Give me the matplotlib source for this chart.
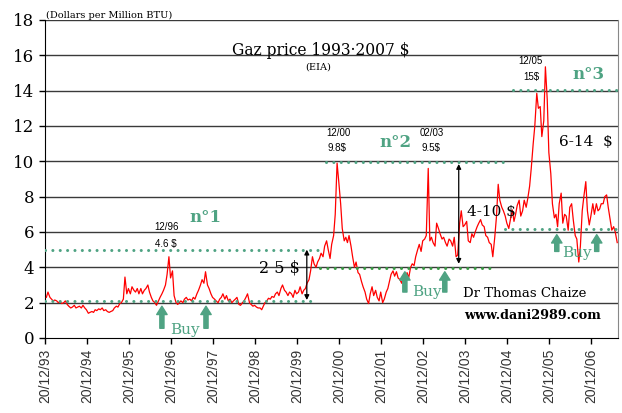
import matplotlib
matplotlib.use("Agg")
import matplotlib.pyplot as plt
import pandas as pd

# Henry Hub spot at the 1st and 15th of each month ($/MMBtu)
price_1994 = [2.3, 2.6, 2.3, 2.2, 2.1, 2.15, 2.1, 2.0, 2.05, 1.95, 2.0, 2.1,
              1.9, 1.8, 1.7, 1.75, 1.85, 1.7, 1.75, 1.8, 1.7, 1.85, 1.7, 1.6]
price_1995 = [1.4, 1.45, 1.5, 1.45, 1.6, 1.55, 1.65, 1.6, 1.7, 1.55, 1.6, 1.5,
              1.45, 1.5, 1.55, 1.7, 1.8, 1.75, 1.95, 2.0, 2.2, 3.45, 2.5, 2.8]
price_1996 = [2.5, 2.9, 2.7, 2.6, 2.8, 2.5, 2.8, 2.5, 2.7, 2.8, 3.0, 2.6,
              2.3, 2.1, 2.0, 1.85, 2.1, 2.3, 2.5, 2.7, 3.0, 3.6, 4.6, 3.4]
price_1997 = [3.8, 2.4, 2.0, 1.9, 2.0, 2.1, 2.0, 2.2, 2.3, 2.15, 2.2, 2.1,
              2.3, 2.2, 2.5, 2.7, 3.0, 3.3, 3.1, 3.75, 3.0, 2.8, 2.5, 2.3]
price_1998 = [2.2, 2.1, 2.0, 2.2, 2.3, 2.5, 2.2, 2.4, 2.1, 2.2, 2.0, 2.1,
              2.2, 2.3, 1.9, 1.85, 2.0, 2.1, 2.3, 2.5, 2.0, 1.9, 1.8, 1.85]
price_1999 = [1.75, 1.7, 1.7, 1.6, 1.8, 2.0, 2.1, 2.25, 2.2, 2.35, 2.3, 2.5,
              2.6, 2.4, 2.8, 3.0, 2.7, 2.6, 2.4, 2.6, 2.5, 2.3, 2.7, 2.5]
price_2000 = [2.6, 2.9, 2.5, 2.7, 2.8, 3.1, 3.3, 3.8, 4.6, 4.2, 4.0, 4.3,
              4.5, 4.8, 4.6, 5.2, 5.5, 5.0, 4.5, 5.3, 5.8, 7.0, 9.9, 8.9]
price_2001 = [7.6, 6.2, 5.5, 5.7, 5.4, 5.8, 5.2, 4.6, 4.0, 4.3, 3.7, 3.6,
              3.2, 2.9, 2.6, 2.2, 1.95, 2.5, 2.9, 2.4, 2.7, 2.3, 2.1, 2.6]
price_2002 = [2.0, 2.2, 2.6, 2.8, 3.2, 3.6, 3.8, 3.5, 3.75, 3.4, 3.3, 3.1,
              3.5, 3.2, 3.7, 3.4, 4.0, 4.2, 4.1, 4.6, 5.0, 5.3, 4.9, 5.5]
price_2003 = [5.6, 5.8, 9.6, 5.5, 5.7, 5.4, 5.2, 6.5, 6.2, 5.9, 5.6, 5.7,
              5.4, 5.2, 5.6, 5.5, 5.2, 5.7, 4.6, 4.7, 6.5, 7.2, 6.3, 6.4]
price_2004 = [6.6, 5.5, 5.4, 5.9, 5.7, 6.0, 6.3, 6.5, 6.7, 6.4, 6.3, 5.8,
              5.7, 5.4, 5.3, 4.6, 5.7, 6.8, 8.7, 7.8, 7.4, 7.2, 6.9, 6.5]
price_2005 = [6.2, 6.7, 7.25, 6.6, 7.0, 7.5, 7.8, 6.9, 7.2, 7.8, 7.4, 7.9,
              8.6, 9.6, 11.0, 12.0, 13.85, 13.0, 13.1, 11.4, 12.3, 15.35, 13.5, 10.5]
price_2006 = [9.3, 7.6, 6.8, 7.0, 6.3, 7.6, 8.2, 6.5, 7.0, 6.9, 6.1, 7.4,
              7.6, 6.7, 5.8, 5.6, 4.3, 5.2, 7.2, 8.0, 8.85, 7.2, 6.4, 6.9]
price_2007 = [7.6, 7.0, 7.6, 7.2, 7.3, 7.6, 7.6, 8.0, 8.1, 7.4, 6.7, 6.1,
              6.3, 6.0, 5.4]

YEARS = [1994, 1995, 1996, 1997, 1998, 1999, 2000,
         2001, 2002, 2003, 2004, 2005, 2006, 2007]
SERIES = [price_1994, price_1995, price_1996, price_1997, price_1998, price_1999,
          price_2000, price_2001, price_2002, price_2003, price_2004, price_2005,
          price_2006, price_2007]

GREEN = "#4fa383"
DARKGREEN = "#3a9a45"
SERIF = "DejaVu Serif"


def build_series():
    parts = []
    for yr, vals in zip(YEARS, SERIES):
        idx = pd.date_range(f"{yr}-01-01", periods=len(vals), freq="SMS")
        parts.append(pd.Series(vals, index=idx))
    return pd.concat(parts)


def T(s):
    return pd.Timestamp(s)


def dotted(ax, start, end, y, color=GREEN):
    ax.plot([T(start), T(end)], [y, y], color=color, lw=2.2,
            linestyle=(0, (0.01, 2.4)), dash_capstyle="round", zorder=4)


def span_arrow(ax, date, lo, hi):
    ax.annotate("", xy=(T(date), hi), xytext=(T(date), lo),
                arrowprops=dict(arrowstyle="<|-|>", color="black", lw=0.9,
                                mutation_scale=7, shrinkA=0, shrinkB=0), zorder=5)


def buy_arrow(ax, date, lo, hi):
    ax.annotate("", xy=(T(date), hi), xytext=(T(date), lo),
                arrowprops=dict(arrowstyle="simple,head_width=0.75,head_length=0.6,tail_width=0.3",
                                color=GREEN, mutation_scale=10, shrinkA=0, shrinkB=0), zorder=5)


def main():
    s = build_series()
    fig = plt.figure(figsize=(6.22, 4.13), dpi=100)
    ax = fig.add_axes([0.0723, 0.1816, 0.9213, 0.77])

    for y in range(2, 19, 2):
        ax.axhline(y, color="#3a3a3a", lw=1.0, zorder=1)
    ax.plot(s.index, s.values, color="red", lw=0.9, zorder=3)

    ax.set_ylim(0, 18)
    ax.set_xlim(T("1993-12-20"), T("2007-08-08"))
    ax.set_yticks(range(0, 19, 2))
    ticks = pd.date_range("1993-12-20", periods=14, freq=pd.DateOffset(years=1))
    ax.set_xticks(ticks)
    ax.set_xticklabels([t.strftime("%d/%m/%y") for t in ticks], rotation=90,
                       fontsize=10, family="Liberation Sans", color="#333333")
    for lbl in ax.get_yticklabels():
        lbl.set_family(SERIF)
        lbl.set_fontsize(12)
    ax.tick_params(axis="both", direction="out", length=4, width=1)
    for side in ("top", "right"):
        ax.spines[side].set_color("#888888")
    ax.spines["top"].set_visible(False)

    # support / resistance levels
    dotted(ax, "1993-12-20", "2000-07-04", 5.0)
    dotted(ax, "1993-12-20", "2000-04-26", 2.1)
    dotted(ax, "2000-07-04", "2004-08-23", 3.95, DARKGREEN)
    dotted(ax, "2000-08-25", "2004-12-14", 9.95)
    dotted(ax, "2004-11-27", "2007-08-08", 6.15)
    dotted(ax, "2005-02-05", "2007-08-08", 14.05)

    span_arrow(ax, "2000-03-13", 2.15, 5.0)
    span_arrow(ax, "2003-10-24", 4.2, 9.85)

    for d, lo, hi in [("1996-10-01", 0.55, 1.8), ("1997-10-19", 0.55, 1.8),
                      ("2002-07-13", 2.6, 3.75), ("2003-06-25", 2.6, 3.75),
                      ("2006-02-22", 4.9, 5.85), ("2007-02-04", 4.9, 5.85)]:
        buy_arrow(ax, d, lo, hi)

    green_txt = dict(color=GREEN, family=SERIF, ha="center", va="center", zorder=6)
    for d, y in [("1997-04-19", 0.45), ("2003-01-20", 2.6), ("2006-08-15", 4.8)]:
        ax.text(T(d), y, "Buy", fontsize=11, **green_txt)
    ax.text(T("1997-10-10"), 6.8, "n°1", fontsize=12, weight="bold", **green_txt)
    ax.text(T("2002-04-26"), 11.05, "n°2", fontsize=12, weight="bold", **green_txt)
    ax.text(T("2006-11-27"), 14.9, "n°3", fontsize=12, weight="bold", **green_txt)

    black_txt = dict(color="black", family=SERIF, ha="center", va="center", zorder=6)
    ax.text(T("1999-07-23"), 3.95, "2 5 $", fontsize=11.5, **black_txt)
    ax.text(T("2004-08-06"), 7.15, "4-10 $", fontsize=11, **black_txt)
    ax.text(T("2006-11-01"), 11.1, "6-14  $", fontsize=11, **black_txt)
    ax.text(T("2005-05-20"), 2.53, "Dr Thomas Chaize", fontsize=9.5, **black_txt)
    ax.text(T("2005-07-30"), 1.3, "www.dani2989.com", fontsize=9.2, weight="bold", **black_txt)

    small = dict(color="black", family="Liberation Sans", ha="center", va="center",
                 fontsize=7, zorder=6)
    for d, y, t in [("1996-11-09", 6.3, "12/96"), ("1996-11-06", 5.3, "4.6 $"),
                    ("2000-12-17", 11.6, "12/00"), ("2000-12-02", 10.75, "9.8$"),
                    ("2003-03-04", 11.6, "02/03"), ("2003-02-25", 10.75, "9.5$"),
                    ("2005-07-12", 15.7, "12/05"), ("2005-07-12", 14.8, "15$")]:
        ax.text(T(d), y, t, **small)

    ax.text(0.482, 0.905, "Gaz price 1993·2007 $", transform=ax.transAxes,
            ha="center", va="center", fontsize=11.2, family=SERIF)
    ax.text(0.476, 0.852, "(EIA)", transform=ax.transAxes,
            ha="center", va="center", fontsize=7, family=SERIF)
    ax.text(0.002, 1.0, "(Dollars per Million BTU)", transform=ax.transAxes,
            ha="left", va="bottom", fontsize=7, family=SERIF)

    fig.savefig("out.png", dpi=100)


if __name__ == "__main__":
    main()
